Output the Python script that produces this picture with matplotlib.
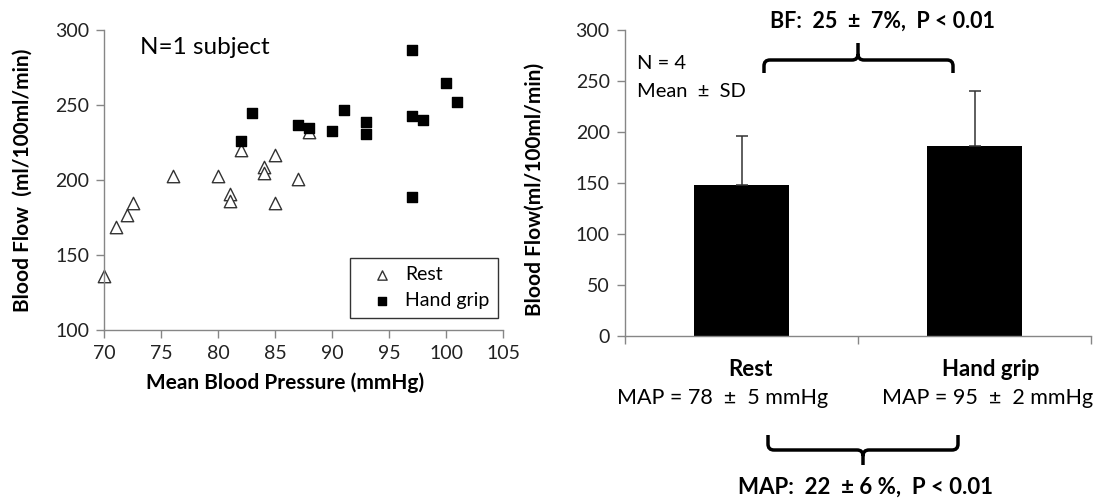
import matplotlib
matplotlib.use("Agg")
import matplotlib.pyplot as plt
from matplotlib.path import Path
from matplotlib.patches import PathPatch

plt.rcParams['font.family'] = ['Lato', 'DejaVu Sans']

# scatter data: mean blood pressure (mmHg) vs blood flow (ml/100ml/min), N=1 subject
rest_map = [70, 71, 72, 72.5, 76, 80, 81, 81, 82, 84, 84, 85, 85, 87, 88]
rest_bf = [136, 169, 177, 185, 203, 203, 191, 186, 220, 209, 205, 217, 185, 201, 232]
grip_map = [82, 83, 87, 88, 90, 91, 93, 93, 97, 97, 97, 98, 100, 101]
grip_bf = [226, 245, 237, 235, 233, 247, 239, 231, 287, 243, 189, 240, 265, 252]

# bar data, N=4
bar_labels = ["Rest", "Hand grip"]
bar_means = [148, 186]
bar_sd = [48, 54]
map_texts = ["MAP = 78  \u00b1  5 mmHg", "MAP = 95  \u00b1  2 mmHg"]

W, H = 1097, 499
fig = plt.figure(figsize=(W / 100, H / 100), dpi=100)

def px(x, y):
    return x / W, 1 - y / H

spine_col = "#868686"
tick_fs = 14
lab_fs = 15

# ---- left: scatter ----
ax1 = fig.add_axes([104.3 / W, 1 - 330 / H, (503 - 104.3) / W, 300 / H])
ax1.scatter(rest_map, rest_bf, marker="^", s=80, facecolors="white", edgecolors="#333333",
            linewidths=1.0, label="Rest", zorder=2, clip_on=False)
ax1.scatter(grip_map, grip_bf, marker="s", s=60, color="black", label="Hand grip", zorder=3,
            clip_on=False)
ax1.set_xlim(70, 105)
ax1.set_ylim(100, 300)
ax1.set_xticks(range(70, 106, 5))
ax1.set_yticks(range(100, 301, 50))
ax1.set_xlabel("Mean Blood Pressure (mmHg)", fontsize=lab_fs, fontweight="bold")
ax1.xaxis.set_label_coords(0.453, -0.14)
ax1.set_ylabel("Blood Flow  (ml/100ml/min)", fontsize=lab_fs, fontweight="bold")
ax1.yaxis.set_label_coords(-0.18, 0.5)
ax1.text(0.09, 0.94, "N=1 subject", transform=ax1.transAxes, fontsize=17.5, va="center")
leg = ax1.legend(loc="lower right", bbox_to_anchor=(0.988, 0.04), fontsize=14,
                 frameon=True, fancybox=False, handletextpad=0.0, handlelength=2.4,
                 borderpad=0.45, labelspacing=0.45, borderaxespad=0, markerscale=0.75)
leg.get_frame().set_edgecolor("black")
leg.get_frame().set_linewidth(1.0)

# ---- right: bars ----
ax2 = fig.add_axes([625 / W, 1 - 336 / H, (1091 - 625) / W, 306 / H])
xpos = list(range(len(bar_labels)))
ax2.bar(xpos, bar_means, width=0.405, color="black", zorder=2)
ax2.errorbar(xpos, bar_means, yerr=[[0] * len(bar_sd), bar_sd], fmt="none",
             ecolor="#333333", elinewidth=1.1, capsize=4, capthick=1.1, zorder=3)
ax2.set_xlim(-0.5, 1.5)
ax2.set_ylim(0, 300)
ax2.set_yticks(range(0, 301, 50))
ax2.set_xticks([-0.5, 0.5, 1.5])
ax2.set_xticklabels([])
ax2.set_ylabel("Blood Flow(ml/100ml/min)", fontsize=lab_fs, fontweight="bold")
ax2.yaxis.set_label_coords(-0.172, 0.48)

for ax in (ax1, ax2):
    for side in ("top", "right"):
        ax.spines[side].set_visible(False)
    for side in ("left", "bottom"):
        ax.spines[side].set_color(spine_col)
        ax.spines[side].set_linewidth(1.0)
    ax.tick_params(direction="out", length=6, width=1.0, color=spine_col,
                   labelsize=tick_fs, labelcolor="#222222", pad=5)

ax2.text(0.025, 0.89, "N = 4", transform=ax2.transAxes, fontsize=14.5, va="center")
ax2.text(0.025, 0.80, "Mean  \u00b1  SD", transform=ax2.transAxes, fontsize=14.5, va="center")

# category labels and MAP values under bars
cat_x = [750, 991]
map_x = [723, 988]
for i in range(len(bar_labels)):
    fig.text(*px(cat_x[i], 370), bar_labels[i], ha="center", va="center",
             fontsize=16, fontweight="bold")
    fig.text(*px(map_x[i], 398), map_texts[i], ha="center", va="center", fontsize=15.5)

# curly brackets (pixel coordinates of the figure)
def draw_bracket(x0, x1, y_end, y_bar, y_tip, xm, r=6):
    d = 1 if y_end > y_bar else -1
    verts = [(x0, y_end), (x0, y_bar + d * r), (x0, y_bar), (x0 + r, y_bar),
             (xm - r, y_bar), (xm, y_bar), (xm, y_bar - d * r), (xm, y_tip),
             (xm, y_bar - d * r), (xm, y_bar), (xm + r, y_bar),
             (x1 - r, y_bar), (x1, y_bar), (x1, y_bar + d * r), (x1, y_end)]
    codes = [Path.MOVETO, Path.LINETO, Path.CURVE3, Path.CURVE3,
             Path.LINETO, Path.CURVE3, Path.CURVE3, Path.LINETO,
             Path.MOVETO, Path.CURVE3, Path.CURVE3,
             Path.LINETO, Path.CURVE3, Path.CURVE3, Path.LINETO]
    verts = [px(x, y) for x, y in verts]
    fig.add_artist(PathPatch(Path(verts, codes), transform=fig.transFigure,
                             fill=False, edgecolor="black", lw=2.5, capstyle="butt"))

draw_bracket(764, 953, 73, 60, 43, 858)
draw_bracket(768, 958, 435, 450, 465, 863)

fig.text(*px(882, 21), "BF:  25  \u00b1  7%,  P < 0.01", ha="center", va="center",
         fontsize=15.5, fontweight="bold")
fig.text(*px(865, 487), "MAP:  22  \u00b1 6 %,  P < 0.01", ha="center", va="center",
         fontsize=16, fontweight="bold")

fig.savefig("out.png", dpi=100, facecolor="white")
